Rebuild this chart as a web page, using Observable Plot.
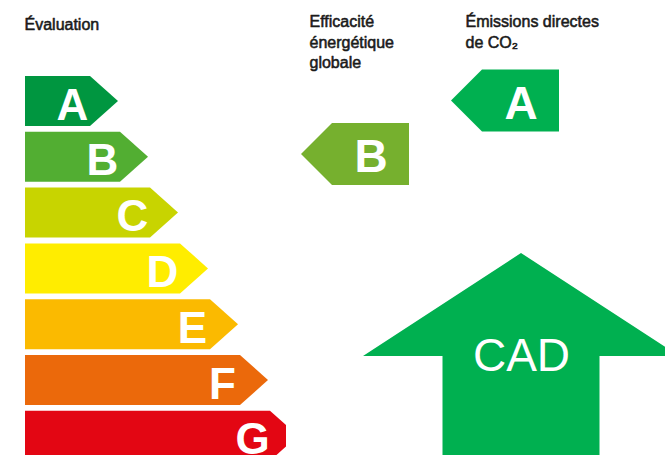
<!DOCTYPE html>
<html><head><meta charset="utf-8">
<script src="https://cdn.jsdelivr.net/npm/d3@7"></script>
<script src="https://cdn.jsdelivr.net/npm/@observablehq/plot@0.6"></script>
<style>html,body{margin:0;padding:0;background:#fff;overflow:hidden}</style>
</head><body><div id="chart"></div>
<script>
// ---- data ----
const grades = ["A", "B", "C", "D", "E", "F", "G"];
const gradeColors = ["#009640", "#52ae32", "#c8d400", "#ffed00", "#fbba00", "#eb690b", "#e30613"];
const scaleTitle = "Évaluation";
const ratingTitles = ["Efficacité\nénergétique\nglobale", "Émissions directes\nde CO₂"];
const ratingGrades = ["B", "A"];
const ratingColors = ["#76b02e", "#00b050"];
const heatingLabel = "CAD";
const heatingColor = "#00b050";

// ---- layout ----
const W = 665, H = 455;
const L = {
  barLeft: 25, rowTop0: 76, rowStep: 55.8, rowH: 50,
  rectEnd0: 90, rectStep: 30, tipDepth: 28, cutX: 286,
  colTitleX: [309, 465], colTipX: [301, 451], colRectW: 77, colH: 62, colDepth: 31,
  colMid0: 100.5, colStep: 53.5,
  arrowMidX: 521, arrowTop: 253, arrowHeadY: 356, arrowHeadHalf: 158, arrowShaftHalf: 78.5
};

// left scale bars as polygons (x, y1..y2)
const barPts = [];
grades.forEach((g, i) => {
  const top = L.rowTop0 + i * L.rowStep, bot = top + L.rowH, mid = (top + bot) / 2;
  const rectEnd = L.rectEnd0 + i * L.rectStep, tip = rectEnd + L.tipDepth;
  const c = gradeColors[i];
  barPts.push({g, c, x: L.barLeft, y1: top, y2: bot});
  barPts.push({g, c, x: rectEnd, y1: top, y2: bot});
  if (tip > L.cutX) {
    const k = (L.cutX - rectEnd) / L.tipDepth * (L.rowH / 2);
    barPts.push({g, c, x: L.cutX, y1: top + k, y2: bot - k});
  } else {
    barPts.push({g, c, x: tip, y1: mid, y2: mid});
  }
});
const barLabels = grades.map((g, i) => ({
  g, x: L.rectEnd0 + i * L.rectStep - 18, y: L.rowTop0 + i * L.rowStep + L.rowH / 2
}));

// rating indicator arrows (pointing left)
const ratPts = [], ratLabels = [], titleRows = [];
ratingGrades.forEach((g, j) => {
  const gi = grades.indexOf(g);
  const mid = L.colMid0 + gi * L.colStep, top = mid - L.colH / 2, bot = mid + L.colH / 2;
  const tip = L.colTipX[j], r0 = tip + L.colDepth, r1 = r0 + L.colRectW;
  const c = ratingColors[j];
  ratPts.push({z: j, c, x: tip, y1: mid, y2: mid});
  ratPts.push({z: j, c, x: r0, y1: top, y2: bot});
  ratPts.push({z: j, c, x: r1, y1: top, y2: bot});
  ratLabels.push({g, x: (r0 + r1) / 2, y: mid});
  titleRows.push({t: ratingTitles[j], x: L.colTitleX[j]});
});

// up arrow
const upPts = [
  {y: H, xa: L.arrowMidX - L.arrowShaftHalf, xb: L.arrowMidX + L.arrowShaftHalf},
  {y: L.arrowHeadY, xa: L.arrowMidX - L.arrowShaftHalf, xb: L.arrowMidX + L.arrowShaftHalf},
  {y: L.arrowHeadY, xa: L.arrowMidX - L.arrowHeadHalf, xb: L.arrowMidX + L.arrowHeadHalf},
  {y: L.arrowTop, xa: L.arrowMidX, xb: L.arrowMidX}
];

const font = "'Liberation Sans', Arial, Helvetica, sans-serif";
const chart = Plot.plot({
  width: W, height: H, margin: 0,
  x: {domain: [0, W], range: [0, W], axis: null},
  y: {domain: [0, H], range: [0, H], axis: null},
  color: {type: "identity"},
  style: {fontFamily: font, background: "#fff"},
  marks: [
    Plot.area(barPts, {x1: "x", y1: "y1", y2: "y2", z: "g", fill: "c", curve: "linear"}),
    Plot.text(barLabels, {x: "x", y: "y", text: "g", fill: "#fff", fontSize: 44, fontWeight: "bold", dy: 4}),
    Plot.area(ratPts, {x1: "x", y1: "y1", y2: "y2", z: "z", fill: "c", curve: "linear"}),
    Plot.text(ratLabels, {x: "x", y: "y", text: "g", fill: "#fff", fontSize: 46, fontWeight: "bold", dy: 3}),
    Plot.area(upPts, {y1: "y", x1: "xa", x2: "xb", fill: heatingColor, curve: "linear"}),
    Plot.text([heatingLabel], {x: L.arrowMidX, y: 354, text: d => d, fill: "#fff", fontSize: 46, dy: 2}),
    Plot.text([scaleTitle], {x: 24, y: 18, text: d => d, textAnchor: "start", lineAnchor: "top", fontSize: 16, fill: "#1a1a1a", stroke: "#1a1a1a", strokeWidth: 0.55}),
    Plot.text(titleRows, {x: "x", y: 12, text: "t", textAnchor: "start", lineAnchor: "top", fontSize: 16, lineHeight: 1.28, fill: "#1a1a1a", stroke: "#1a1a1a", strokeWidth: 0.55})
  ]
});
document.getElementById("chart").appendChild(chart);
</script>
</body></html>
